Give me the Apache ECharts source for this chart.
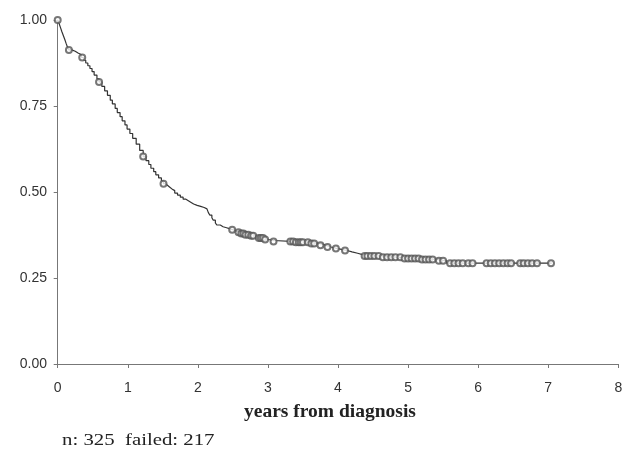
<!DOCTYPE html>
<html>
<head>
<meta charset="utf-8" />
<title>survival</title>
<script src="https://cdn.jsdelivr.net/npm/echarts@6/dist/echarts.min.js"></script>
<style>
  html, body { margin: 0; padding: 0; background: #fff; }
  #main { width: 629px; height: 450px; }
</style>
</head>
<body>
<div id="main"></div>
<script>
// Kaplan-Meier estimate (years, survival)
var kmTimes = [0, 0.02, 0.04, 0.06, 0.08, 0.10, 0.12, 0.14, 0.16, 0.20, 0.25, 0.29, 0.34, 0.37, 0.40, 0.43, 0.46, 0.49,
  0.52, 0.56, 0.59, 0.63, 0.67, 0.71, 0.75, 0.78, 0.82, 0.85, 0.89, 0.92, 0.96, 0.99, 1.03, 1.07, 1.12, 1.17, 1.22,
  1.26, 1.30, 1.33, 1.37, 1.40, 1.44, 1.48, 1.51, 1.54, 1.57, 1.60, 1.63, 1.67, 1.71, 1.75, 1.79, 1.83, 1.87, 1.91,
  1.94, 1.99, 2.04, 2.09, 2.13, 2.15, 2.17, 2.20, 2.22, 2.25, 2.27, 2.32, 2.36, 2.41, 2.46, 2.51, 2.55, 2.62, 2.68,
  2.74, 2.80, 2.87, 2.94, 3.01, 3.08, 3.40, 3.58, 3.75, 3.83, 3.90, 3.98, 4.05, 4.13, 4.20, 4.28, 4.35, 4.60, 4.90,
  5.20, 5.40, 5.55, 7.05];
var kmSurv = [1.000, 0.990, 0.978, 0.966, 0.955, 0.944, 0.932, 0.921, 0.913, 0.909, 0.904, 0.899, 0.891, 0.883, 0.875, 0.867, 0.859, 0.850,
  0.840, 0.829, 0.820, 0.807, 0.794, 0.781, 0.767, 0.756, 0.743, 0.731, 0.719, 0.707, 0.695, 0.683, 0.670, 0.656, 0.639, 0.621, 0.603,
  0.591, 0.580, 0.569, 0.559, 0.550, 0.541, 0.532, 0.524, 0.519, 0.514, 0.509, 0.504, 0.497, 0.491, 0.485, 0.479, 0.474, 0.469, 0.465,
  0.461, 0.458, 0.455, 0.451, 0.447, 0.440, 0.433, 0.425, 0.418, 0.410, 0.404, 0.399, 0.396, 0.393, 0.390, 0.386, 0.383, 0.379, 0.376,
  0.373, 0.370, 0.366, 0.362, 0.359, 0.356, 0.354, 0.350, 0.345, 0.340, 0.336, 0.333, 0.330, 0.326, 0.322, 0.318, 0.314, 0.310, 0.307,
  0.304, 0.300, 0.293, 0.293];

// censored observations (years)
var censorTimes = [0.00, 0.16, 0.35, 0.59, 1.22, 1.51,
  2.49, 2.58, 2.62, 2.65, 2.68, 2.72, 2.76, 2.79, 2.87, 2.90, 2.93, 2.96, 3.08,
  3.32, 3.36, 3.40, 3.44, 3.47, 3.50, 3.57, 3.62, 3.66, 3.75, 3.85, 3.97, 4.10,
  4.38, 4.42, 4.47, 4.52, 4.58, 4.64, 4.70, 4.76, 4.82, 4.89, 4.95, 5.00, 5.05, 5.10, 5.15, 5.20, 5.25, 5.30, 5.35,
  5.44, 5.50, 5.60, 5.66, 5.72, 5.78, 5.86, 5.92, 6.12, 6.18, 6.24, 6.30, 6.36, 6.42, 6.47,
  6.60, 6.65, 6.71, 6.77, 6.84, 7.04];

var yTicks = ['0.00', '0.25', '0.50', '0.75', '1.00'];
var noteText = 'n: 325  failed: 217';

// value of the step curve at time t
function survAt(t) {
  var s = kmSurv[0];
  for (var i = 0; i < kmTimes.length; i++) {
    if (kmTimes[i] <= t) s = kmSurv[i];
  }
  return s;
}

var chart = echarts.init(document.getElementById('main'));

var option = {
  animation: false,
  grid: { left: 57.7, right: 10.7, top: 20, bottom: 86 },
  xAxis: {
    type: 'value',
    min: 0, max: 8, interval: 1,
    offset: 5,
    name: 'years from diagnosis',
    nameLocation: 'middle',
    nameGap: 33,
    nameTextStyle: {
      fontFamily: 'Liberation Serif', fontWeight: 'bold', fontSize: 19.5, color: '#222',
      padding: [0, 16, 0, 0]
    },
    axisLine: { lineStyle: { color: '#777', width: 1 } },
    axisTick: { length: 4, lineStyle: { color: '#777' } },
    axisLabel: { fontFamily: 'Liberation Sans', fontSize: 14, color: '#333', margin: 12 },
    splitLine: { show: false }
  },
  yAxis: {
    type: 'value',
    min: 0, max: 1, interval: 0.25,
    offset: 3.7,
    axisLine: { show: true, lineStyle: { color: '#777', width: 1 } },
    axisTick: { show: true, length: 4, lineStyle: { color: '#777' } },
    axisLabel: {
      fontFamily: 'Liberation Sans', fontSize: 14, color: '#333', margin: 7,
      formatter: function (v) { return yTicks[Math.round(v / 0.25)]; }
    },
    splitLine: { show: false }
  },
  series: [
    {
      type: 'line',
      step: 'end',
      symbol: 'none',
      lineStyle: { color: '#333', width: 1.2 },
      data: kmTimes.map(function (t, i) { return [t, kmSurv[i]]; }),
      z: 2
    },
    {
      type: 'scatter',
      symbol: 'emptyCircle',
      symbolSize: 6,
      itemStyle: { color: '#555', borderColor: '#555', borderWidth: 1 },
      data: censorTimes.map(function (t) { return [t, survAt(t)]; }),
      z: 3
    }
  ],
  graphic: [
    {
      type: 'text',
      left: 62, top: 433,
      scaleX: 1.3,
      style: { text: noteText, font: '16px "Liberation Serif"', fill: '#222' }
    }
  ]
};

chart.setOption(option);
</script>
</body>
</html>
